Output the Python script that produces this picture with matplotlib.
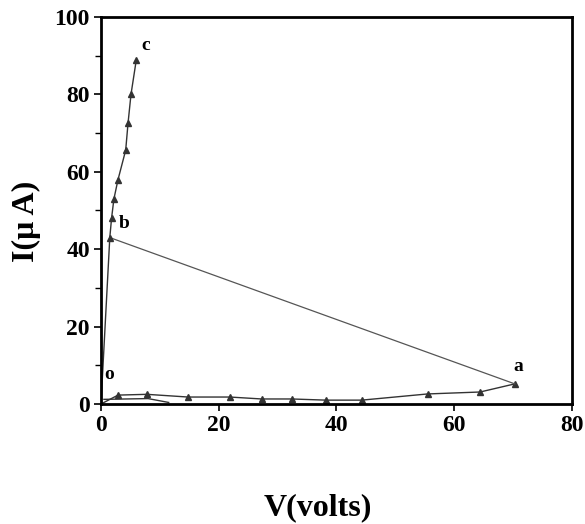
import matplotlib.pyplot as plt
from matplotlib.ticker import MultipleLocator

# data
# forward trace o -> a along the bottom
v_oa = [0.0, 2.9, 7.8, 14.8, 21.9, 27.3, 32.4, 38.2, 44.3, 55.5, 64.4, 70.3]
i_oa = [0.0, 2.3, 2.5, 1.8, 1.8, 1.3, 1.3, 1.0, 1.0, 2.6, 3.1, 5.2]
# lower return trace near the origin
v_lo = [0.5, 8.0, 11.5]
i_lo = [1.2, 1.4, 0.4]
# switch a -> b
v_ab = [70.3, 1.5]
i_ab = [5.2, 43.0]
# b -> c, steep branch
v_bc = [1.5, 1.8, 2.2, 2.9, 4.2, 4.6, 5.1, 6.0]
i_bc = [43.0, 48.0, 53.0, 58.0, 65.6, 72.6, 80.0, 88.9]
# o -> b
v_ob = [0.0, 1.5]
i_ob = [0.0, 43.0]

labels = ['o', 'a', 'b', 'c']
label_pos = [(0.6, 5.5), (70.0, 7.5), (3.0, 44.5), (6.8, 90.5)]

plt.rcParams['font.family'] = 'Liberation Serif'
plt.rcParams['font.weight'] = 'bold'

fig = plt.figure(figsize=(5.85, 5.24), dpi=100)
ax = fig.add_axes([0.1726, 0.229, 0.805, 0.7386])

lc = '#333333'
ax.plot(v_oa, i_oa, color=lc, lw=1.0, marker='^', ms=5, markevery=list(range(1, len(v_oa))))
ax.plot(v_lo, i_lo, color=lc, lw=1.0)
ax.plot(v_ab, i_ab, color='#555555', lw=0.9)
ax.plot(v_bc, i_bc, color=lc, lw=1.0, marker='^', ms=5)
ax.plot(v_ob, i_ob, color=lc, lw=1.0)

for t, (x, y) in zip(labels, label_pos):
    ax.text(x, y, t, fontsize=14, fontweight='bold', ha='left', va='bottom')

ax.set_xlim(0, 80)
ax.set_ylim(0, 100)
ax.xaxis.set_major_locator(MultipleLocator(20))
ax.yaxis.set_major_locator(MultipleLocator(20))
ax.yaxis.set_minor_locator(MultipleLocator(10))
ax.tick_params(axis='both', which='major', direction='out', length=5, width=1.2,
               labelsize=17, top=False, right=False, pad=3)
ax.tick_params(axis='y', which='minor', direction='out', length=4, width=1.0)
for lab in ax.get_xticklabels() + ax.get_yticklabels():
    lab.set_fontweight('bold')

for s in ax.spines.values():
    s.set_linewidth(2.0)

ax.set_xlabel('V(volts)', fontsize=23, fontweight='bold', va='center', ha='center')
ax.xaxis.set_label_coords(0.461, -0.269)
ax.set_ylabel('I(\u03bc A)', fontsize=23, fontweight='bold', va='center', ha='center')
ax.yaxis.set_label_coords(-0.159, 0.473)

fig.savefig('out.png', dpi=100)
